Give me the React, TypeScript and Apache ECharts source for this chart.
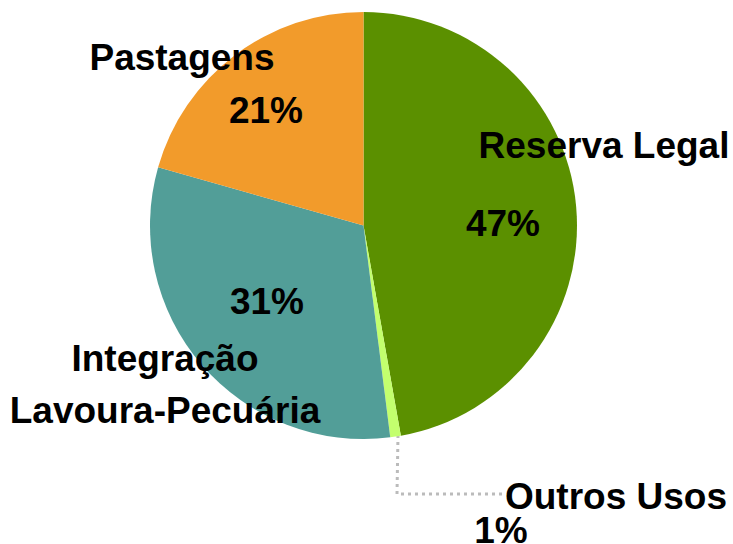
import React, { useEffect, useRef } from "react";
import * as echarts from "echarts";

const categories = ["Reserva Legal", "Outros Usos", "Integração\nLavoura-Pecuária", "Pastagens"];
const shares = [47.2, 0.8, 31.4, 20.6];
const colors = ["#5b9000", "#c3ff6e", "#529e98", "#f29b2b"];
// label anchor points (centre of each text block)
const namePos: [number, number][] = [[604, 145], [616, 496], [165, 384], [182, 57]];
const pctPos: [number, number][] = [[503, 223], [501, 530], [267, 301], [266, 110]];

export default function App() {
  const ref = useRef<HTMLDivElement>(null);
  useEffect(() => {
    document.body.style.margin = "0";
    const chart = echarts.init(ref.current!, null, { renderer: "svg" });
    const data = categories.map((c, i) => ({
      name: c,
      value: shares[i],
      itemStyle: { color: colors[i] },
    }));
    const font = {
      fontFamily: "Liberation Sans",
      fontWeight: "bold" as const,
      fontSize: 37,
      color: "#000",
      lineHeight: 52,
    };
    chart.setOption({
      animation: false,
      series: [
        {
          type: "pie",
          center: [363.5, 225.5],
          radius: 213.5,
          startAngle: 90,
          clockwise: true,
          silent: true,
          data,
          itemStyle: { borderWidth: 0 },
          label: {
            show: true,
            position: "inside",
            ...font,
            formatter: (p: any) => `${Math.round(p.value)}%`,
          },
          labelLine: { show: false },
          labelLayout: (p: any) => ({
            x: pctPos[p.dataIndex][0],
            y: pctPos[p.dataIndex][1],
            align: "center",
            verticalAlign: "middle",
          }),
        },
        {
          type: "pie",
          center: [363.5, 225.5],
          radius: 213.5,
          startAngle: 90,
          clockwise: true,
          silent: true,
          data: data.map((d) => ({ ...d, itemStyle: { color: "rgba(0,0,0,0)" } })),
          label: {
            show: true,
            position: "inside",
            ...font,
            formatter: (p: any) => p.name,
          },
          labelLine: { show: false },
          labelLayout: (p: any) => ({
            x: namePos[p.dataIndex][0],
            y: namePos[p.dataIndex][1],
            align: "center",
            verticalAlign: "middle",
          }),
        },
      ],
      graphic: [
        {
          type: "polyline",
          silent: true,
          shape: { points: [[398, 435], [397, 494], [503, 494]] },
          style: { stroke: "#bbbbbb", lineWidth: 3, lineDash: [3, 4], fill: "none" },
        },
      ],
    });
    return () => chart.dispose();
  }, []);
  return <div ref={ref} style={{ width: 733, height: 544 }} />;
}
